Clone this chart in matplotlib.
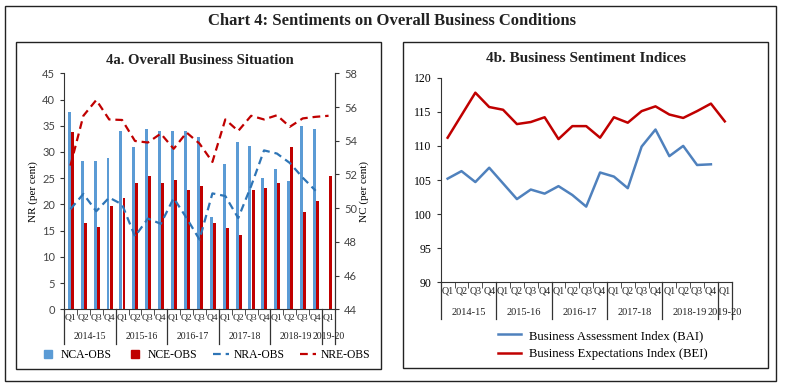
import matplotlib.pyplot as plt
from matplotlib.lines import Line2D
from matplotlib.patches import Rectangle

plt.rcParams['font.family'] = ['Liberation Serif', 'DejaVu Serif']

# categories
quarters = ['Q1', 'Q2', 'Q3', 'Q4'] * 5 + ['Q1']
years = ['2014-15', '2015-16', '2016-17', '2017-18', '2018-19', '2019-20']
year_len = [4, 4, 4, 4, 4, 1]

# 4a: NC bars (right axis), NR lines (left axis)
nca = [55.7, 52.8, 52.8, 53.0, 54.6, 53.6, 54.7, 54.6, 54.6, 54.6, 54.2,
       49.5, 52.6, 53.9, 53.7, 51.8, 52.3, 51.6, 54.9, 54.7]
nce = [54.5, 49.1, 48.9, 50.1, 50.6, 51.5, 51.9, 51.5, 51.7, 51.1, 51.3,
       49.1, 48.8, 48.4, 51.1, 51.2, 51.5, 53.6, 49.8, 50.4, 51.9]
nra = [19.1, 22.0, 18.7, 21.3, 20.0, 13.9, 17.3, 16.3, 21.2, 17.4, 13.3,
       22.1, 21.6, 17.4, 23.5, 30.3, 29.7, 27.9, 25.1, 22.6]
nre = [27.4, 36.9, 39.9, 36.2, 36.1, 32.1, 31.8, 33.5, 30.6, 33.7, 31.6,
       28.1, 36.2, 34.0, 36.9, 36.2, 37.0, 34.8, 36.4, 36.7, 36.9]

# 4b: indices
bai = [105.2, 106.3, 104.7, 106.8, 104.5, 102.2, 103.6, 103.0, 104.1, 102.8,
       101.1, 106.1, 105.5, 103.8, 109.9, 112.4, 108.5, 110.0, 107.2, 107.3]
bei = [111.2, 114.5, 117.8, 115.7, 115.3, 113.2, 113.5, 114.2, 111.0, 112.9,
       112.9, 111.2, 114.2, 113.4, 115.1, 115.8, 114.6, 114.1, 115.1, 116.2,
       113.6]

W, H = 785, 388
fig = plt.figure(figsize=(W / 100, H / 100), dpi=100)

def box(x0, y0, x1, y1):
    # rectangle in pixel coords (top-left origin) -> figure fraction
    return [x0 / W, 1 - y1 / H, (x1 - x0) / W, (y1 - y0) / H]

# frames
for x0, y0, x1, y1 in [(5, 6, 776, 381), (16, 42, 380.5, 369), (403, 42, 768, 368)]:
    b = box(x0, y0, x1, y1)
    fig.patches.append(Rectangle((b[0], b[1]), b[2], b[3], transform=fig.transFigure,
                                 fill=False, edgecolor='#222222', linewidth=1.0))

fig.text(392 / W, 1 - 21 / H, 'Chart 4: Sentiments on Overall Business Conditions',
         ha='center', va='center', fontsize=12, fontweight='bold', color='#222222')

blue_bar = '#5B9BD5'
red = '#C00000'
blue_dash = '#2E75B6'
blue_line = '#4F81BD'


def category_axis(ax, q_size, yr_size, yr_y, sep_len):
    n = len(quarters)
    pos = list(range(n))
    ax.set_xlim(-0.5, n - 0.5)
    ax.set_xticks(pos)
    ax.set_xticklabels(quarters, fontsize=q_size, color='#222222')
    ax.tick_params(axis='x', which='major', length=0, pad=3)
    ax.set_xticks([i - 0.5 for i in range(n + 1)], minor=True)
    ax.tick_params(axis='x', which='minor', length=4, direction='out', color='#333333')
    tr = ax.get_xaxis_transform()
    start = -0.5
    edges = [start]
    for y_name, k in zip(years, year_len):
        ax.text(start + k / 2, yr_y, y_name, transform=tr, ha='center', va='center',
                fontsize=yr_size, color='#222222')
        start += k
        edges.append(start)
    for e in edges:
        ax.plot([e, e], [0, -sep_len], transform=tr, color='#333333', lw=0.9,
                clip_on=False)


# ---- 4a ----
ax1 = fig.add_axes(box(64, 73.3, 335, 309.3))
ax1r = ax1.twinx()
x_b = range(len(nca))
x_e = range(len(nce))
ax1r.bar([i - 0.09 for i in x_b], nca, width=0.23, color=blue_bar, zorder=2)
ax1r.bar([i + 0.15 for i in x_e], nce, width=0.23, color=red, zorder=2)
ax1r.set_ylim(44, 58)
ax1r.set_yticks(range(44, 59, 2))

ax1.plot(range(len(nra)), nra, color=blue_dash, lw=1.6, dashes=(3.5, 2.2))
ax1.plot(range(len(nre)), nre, color=red, lw=1.6, dashes=(3.5, 2.2))
ax1.set_ylim(0, 45)
ax1.set_yticks(range(0, 46, 5))
ax1.set_zorder(ax1r.get_zorder() + 1)
ax1.patch.set_visible(False)

for a in (ax1, ax1r):
    a.spines['top'].set_visible(False)
    for s in a.spines.values():
        s.set_color('#333333')
    a.tick_params(axis='y', length=3, direction='out', color='#333333')
    for lab in a.get_yticklabels():
        lab.set_family(['Lato', 'DejaVu Sans'])
        lab.set_fontsize(8)
        lab.set_color('#444444')
ax1r.spines['bottom'].set_visible(False)
ax1r.spines['left'].set_visible(False)

category_axis(ax1, 6.8, 7, -0.117, 0.148)
ax1.set_ylabel('NR (per cent)', fontsize=8, labelpad=3)
ax1r.set_ylabel('NC (per cent)', fontsize=8, labelpad=2)
ax1.set_title('4a. Overall Business Situation', fontsize=10.5, fontweight='bold',
              color='#222222', pad=7)

h1 = [Line2D([], [], ls='none', marker='s', ms=5.5, color=blue_bar),
      Line2D([], [], ls='none', marker='s', ms=5.5, color=red),
      Line2D([], [], color=blue_dash, lw=1.6, dashes=(3.5, 2.2)),
      Line2D([], [], color=red, lw=1.6, dashes=(3.5, 2.2))]
fig.legend(h1, ['NCA-OBS', 'NCE-OBS', 'NRA-OBS', 'NRE-OBS'], ncol=4, loc='center',
           bbox_to_anchor=(205 / W, 1 - 355 / H), frameon=False, fontsize=8.4,
           handlelength=1.4, handletextpad=0.4, columnspacing=1.3)

# ---- 4b ----
ax2 = fig.add_axes(box(440.7, 77.7, 731.7, 282.3))
ax2.plot(range(len(bai)), bai, color=blue_line, lw=1.8)
ax2.plot(range(len(bei)), bei, color=red, lw=1.8)
ax2.set_ylim(90, 120)
ax2.set_yticks(range(90, 121, 5))
ax2.spines['top'].set_visible(False)
ax2.spines['right'].set_visible(False)
for s in ax2.spines.values():
    s.set_color('#333333')
ax2.tick_params(axis='y', length=3, direction='out', labelsize=8.5, color='#333333')
category_axis(ax2, 7.2, 7.5, -0.15, 0.18)
ax2.set_title('4b. Business Sentiment Indices', fontsize=11, fontweight='bold',
              color='#222222', pad=11)

h2 = [Line2D([], [], color=blue_line, lw=1.8), Line2D([], [], color=red, lw=1.8)]
fig.legend(h2, ['Business Assessment Index (BAI)', 'Business Expectations Index (BEI)'],
           ncol=1, loc='center', bbox_to_anchor=(603 / W, 1 - 345 / H), frameon=False,
           fontsize=9.2, handlelength=1.8, handletextpad=0.6, labelspacing=0.5)

fig.savefig('out.png', dpi=100)
